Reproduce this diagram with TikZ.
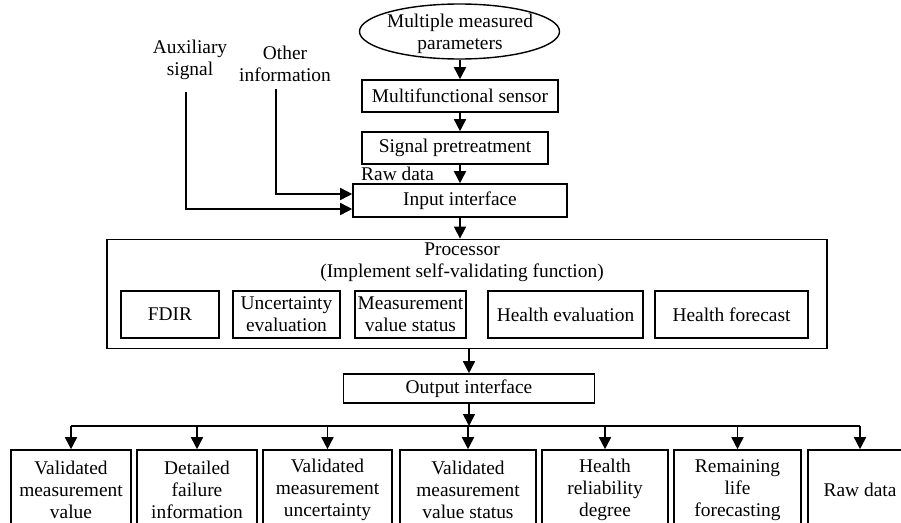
\documentclass[tikz,border=0pt]{standalone}
\usepackage{fontspec}
\setmainfont{Liberation Serif}
\usetikzlibrary{arrows.meta,shapes.geometric}
\tikzset{
  txt/.style={font=\fontsize{19.4pt}{22pt}\selectfont, align=center, inner sep=0pt},
  box/.style={txt, draw, line width=1.6pt},
  ibox/.style={txt, draw, line width=1.4pt},
  arr/.style={line width=1.6pt, -{Triangle[length=12pt,width=12pt]}},
  ln/.style={line width=1.6pt}
}
\begin{document}
\begin{tikzpicture}[x=1pt,y=-1pt]
\useasboundingbox (0,0) rectangle (901,522);
\clip (0,0) rectangle (901,522);
% top chain
\node[ellipse, draw, line width=1.4pt, minimum width=200pt, minimum height=55pt, inner sep=0pt] (params) at (459.5,31.5) {};
\node[txt] (paramstext) at (460,34) {Multiple measured\\parameters};
\node[box, minimum width=196pt, minimum height=32pt] (sensor) at (460,96) {Multifunctional sensor};
\node[box, minimum width=186pt, minimum height=32pt] (pretreat) at (455,148) {Signal pretreatment};
\node[txt, anchor=west] (rawlabel) at (361,174) {Raw data};
\node[box, minimum width=214pt, minimum height=33pt] (input) at (460,200.5) {Input interface};
% side inputs
\node[txt] (aux) at (190,60) {Auxiliary\\signal};
\node[txt] (other) at (285,64) {Other\\information};
\coordinate (auxstart) at (186,92);
\coordinate (otherstart) at (276,89);
\draw[arr] (auxstart) |- ([yshift=-8.5pt]input.west);
\draw[arr] (otherstart) |- ([yshift=6.5pt]input.west);
\draw[arr] (params.south -| input) -- (input |- sensor.north);
\draw[arr] (input |- sensor.south) -- (input |- pretreat.north);
\draw[arr] (input |- pretreat.south) -- (input.north);
% processor
\node[box, line width=1.8pt, minimum width=720pt, minimum height=109pt] (proc) at (467,294) {};
\node[txt] (proctitle) at (462,262.5) {Processor\\(Implement self-validating function)};
\node[ibox, minimum width=98pt, minimum height=47pt] (fdir) at (170,314.5) {FDIR};
\node[ibox, minimum width=107pt, minimum height=47pt] (unc) at (286.5,314.5) {Uncertainty\\evaluation};
\node[ibox, minimum width=111pt, minimum height=47pt] (mvs) at (410.5,314.5) {Measurement\\value status};
\node[ibox, minimum width=155pt, minimum height=47pt] (heval) at (565.5,314.5) {Health evaluation};
\node[ibox, minimum width=153pt, minimum height=47pt] (hfore) at (731.5,314.5) {Health forecast};
\draw[arr] (input.south) -- (input.south |- proc.north);
% output
\node[box, minimum width=251pt, minimum height=29pt] (outif) at (469,388.5) {Output interface};
\draw[arr] (proc.south -| outif) -- (outif.north);
\coordinate (bus) at (469,426);
\draw[arr] (outif.south) -- (bus);
% bottom boxes
\node[box, minimum width=120pt, minimum height=80pt] (o1) at (71,490) {Validated\\measurement\\value};
\node[box, minimum width=120pt, minimum height=80pt] (o2) at (197,490) {Detailed\\failure\\information};
\node[box, minimum width=129pt, minimum height=80pt] (o3) at (327.5,490) {Validated\\measurement\\uncertainty};
\node[box, minimum width=136pt, minimum height=80pt] (o4) at (468,490) {Validated\\measurement\\value status};
\node[box, minimum width=126pt, minimum height=80pt] (o5) at (605,490) {Health\\reliability\\degree};
\node[box, minimum width=127pt, minimum height=80pt] (o6) at (737.5,490) {Remaining\\life\\forecasting};
\node[box, minimum width=104pt, minimum height=80pt] (o7) at (860,490) {Raw data};
\draw[ln] (o1.north |- bus) -- (o7.north |- bus);
\foreach \n in {o1,o2,o3,o4,o5,o6,o7}{
  \draw[arr] (\n.north |- bus) -- (\n.north);
}
\end{tikzpicture}
\end{document}
